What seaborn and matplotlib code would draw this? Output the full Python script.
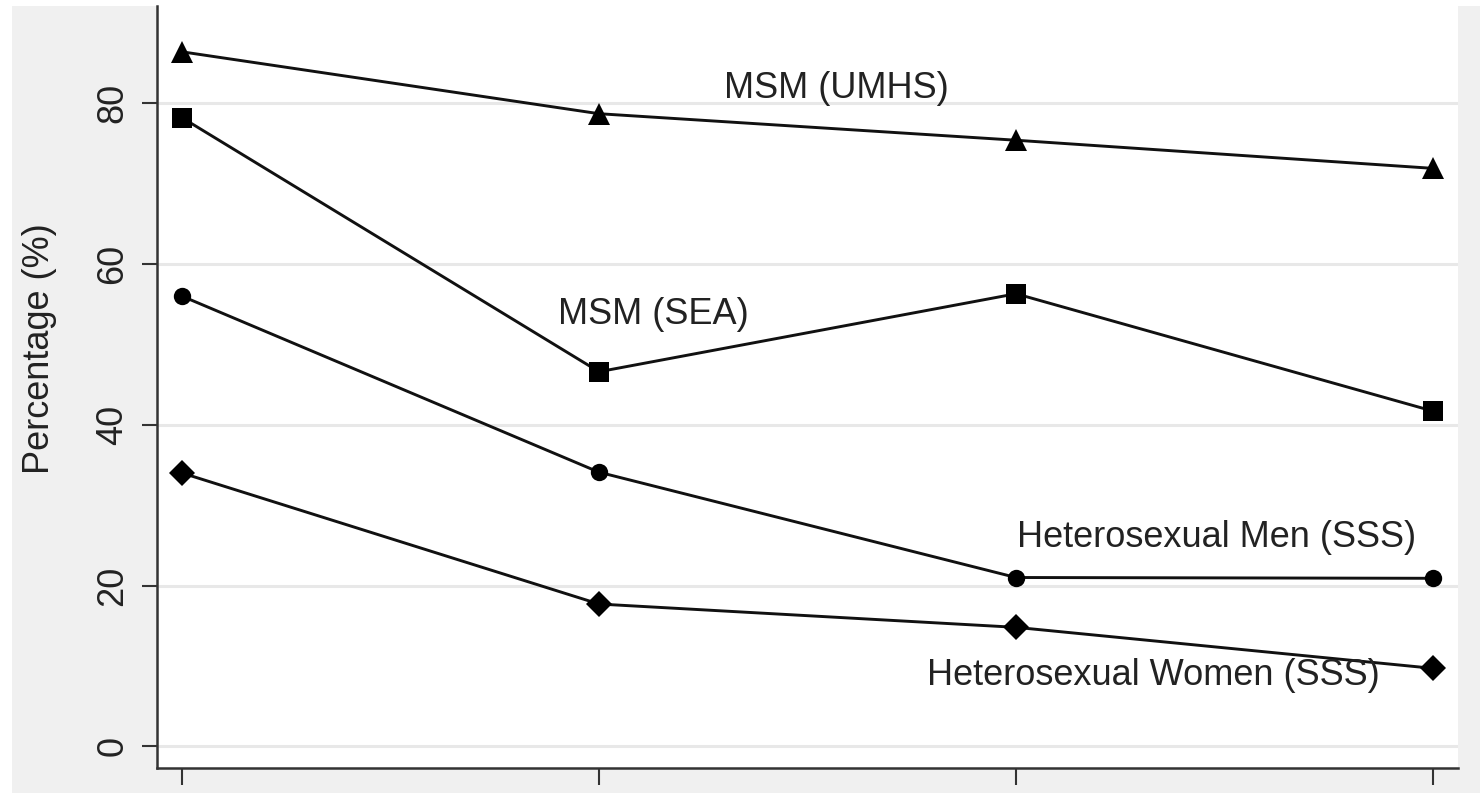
import matplotlib
matplotlib.use("Agg")
import matplotlib.pyplot as plt
from matplotlib.patches import Rectangle
import seaborn as sns
import pandas as pd

# Survey waves (unlabelled positions on the x axis)
waves = [1, 2, 3, 4]

# Percentages per group
msm_umhs = [86.4, 78.7, 75.4, 71.9]
msm_sea = [78.2, 46.6, 56.3, 41.7]
hetero_men = [56.0, 34.1, 21.0, 20.9]
hetero_women = [34.0, 17.7, 14.8, 9.7]

group_names = ["MSM (UMHS)", "MSM (SEA)", "Heterosexual Men (SSS)",
               "Heterosexual Women (SSS)"]
group_values = [msm_umhs, msm_sea, hetero_men, hetero_women]
group_markers = ["^", "s", "o", "D"]
group_msize = [16, 14.5, 12.5, 13]

# In-plot label anchors (x, baseline y) in data units
label_x = [2.57, 2.13, 3.48, 3.33]
label_y = [80.6, 52.6, 24.8, 7.6]

y_ticks = [0, 20, 40, 60, 80]

sns.set_theme(style="white")
plt.rcParams["font.family"] = ["Liberation Sans", "DejaVu Sans"]

fig = plt.figure(figsize=(14.8, 7.93), dpi=100, facecolor="white")
# light grey panel behind the plotting region
fig.patches.append(Rectangle((12 / 1480, 0), 1 - 12 / 1480, 787 / 793,
                             transform=fig.transFigure, facecolor="#f0f0f0",
                             edgecolor="none", zorder=-10))
ax = fig.add_axes([157 / 1480, 25 / 793, (1458 - 157) / 1480, (787 - 25) / 793])
ax.set_zorder(5)
ax.set_facecolor("white")

df = pd.DataFrame({
    "wave": waves * len(group_names),
    "pct": [v for vals in group_values for v in vals],
    "group": [g for g in group_names for _ in waves],
})

for name, mk, ms in zip(group_names, group_markers, group_msize):
    sub = df[df["group"] == name]
    sns.lineplot(data=sub, x="wave", y="pct", ax=ax, color="#111111",
                 linewidth=2.1, marker=mk, markersize=ms,
                 markeredgewidth=0, markerfacecolor="black", legend=False,
                 zorder=3)

for name, lx, ly in zip(group_names, label_x, label_y):
    ax.text(lx, ly, name, ha="center", va="baseline", fontsize=26,
            color="#222222", zorder=4)

ax.set_xlim(0.94, 4.06)
ax.set_ylim(-2.7, 92.1)
ax.set_xticks(waves)
ax.set_xticklabels([])
ax.set_yticks(y_ticks)
ax.set_yticklabels([str(t) for t in y_ticks], rotation=90, va="center",
                   fontsize=26, color="#222222")
ax.set_xlabel("")
ax.set_ylabel("Percentage (%)", fontsize=26, color="#222222")
ax.yaxis.set_label_coords(-0.077, 0.55)

ax.grid(axis="y", color="#e8e8e8", linewidth=2.2)
ax.grid(axis="x", visible=False)
ax.set_axisbelow(True)

for side in ["top", "right"]:
    ax.spines[side].set_visible(False)
for side in ["left", "bottom"]:
    ax.spines[side].set_color("#333333")
    ax.spines[side].set_linewidth(1.8)

ax.tick_params(axis="y", which="both", left=True, length=11, width=1.5,
               color="#333333", pad=8)
ax.tick_params(axis="x", which="both", bottom=True, length=12, width=1.5,
               color="#333333")

fig.savefig("out.png", dpi=100, facecolor=fig.get_facecolor())
